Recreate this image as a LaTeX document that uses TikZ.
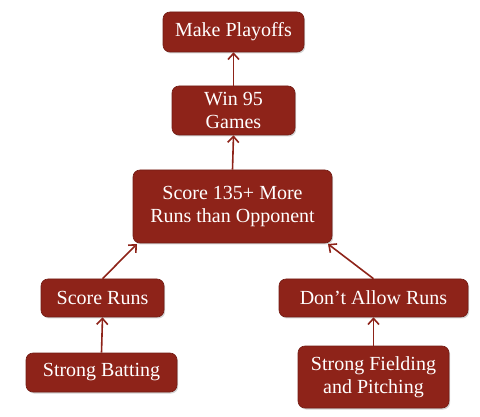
\documentclass[tikz,border=0pt]{standalone}
\usepackage{fontspec}
\setmainfont{Liberation Serif}
\usetikzlibrary{shadows,arrows.meta}
\definecolor{boxred}{HTML}{8E2319}
\tikzset{
  goal/.style={draw=boxred!80!black, line width=0.6pt, fill=boxred, rounded corners=7pt,
    text=white, align=center, inner sep=0pt,
    font=\fontsize{20}{23}\selectfont,
    drop shadow={opacity=0.35, shadow xshift=1.2pt, shadow yshift=-1.5pt}},
  link/.style={draw=boxred, line width=1.6pt, -{Straight Barb[length=6pt,width=11pt,line width=1.6pt]}}
}
\begin{document}
\begin{tikzpicture}[x=1pt,y=-1pt]
\useasboundingbox (0,0) rectangle (480,417);
\node[goal, minimum width=141pt, minimum height=40pt] (mp) at (233.5,32) {Make Playoffs};
\node[goal, minimum width=123pt, minimum height=49pt] (win) at (233.5,110.5) {Win 95\\Games};
\node[goal, minimum width=199pt, minimum height=73pt] (score) at (232.5,206.5) {Score 135+ More\\Runs than Opponent};
\node[goal, minimum width=123pt, minimum height=38pt] (sr) at (102.5,298) {Score Runs};
\node[goal, minimum width=189pt, minimum height=38pt] (dar) at (373.5,298) {Don't Allow Runs};
\node[goal, minimum width=151pt, minimum height=39pt] (sb) at (101.5,372.5) {Strong Batting};
\node[goal, minimum width=151pt, minimum height=62pt] (sf) at (373.5,377) {Strong Fielding\\and Pitching};
\coordinate (scL) at (137,244);
\coordinate (scR) at (328,244);
\draw[link] (win.north) -- (mp.south);
\draw[link] (score.north) -- (win.south);
\draw[link] (sr.north) -- (scL);
\draw[link] (dar.north) -- (scR);
\draw[link] (sb.north) -- (sr.south);
\draw[link] (sf.north) -- (dar.south);
\end{tikzpicture}
\end{document}
